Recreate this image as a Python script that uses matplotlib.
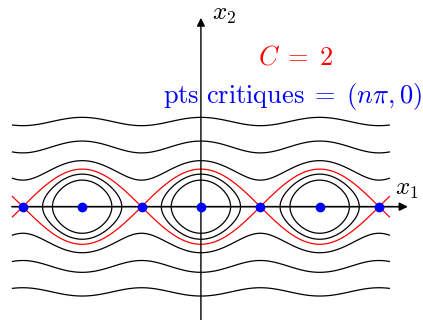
import numpy as np
import matplotlib.pyplot as plt

plt.rcParams['mathtext.fontset'] = 'cm'

# niveaux d'energie H = x2^2/2 + 1 - cos(x1)
niveaux_noirs = [1.0, 1.5, 3.0, 6.1, 11.3]
niveau_rouge = 2.0
# points critiques (n*pi, 0)
n_points = [-3, -2, -1, 0, 1, 2, 3]

fig = plt.figure(figsize=(4.23, 3.2), dpi=100)
ax = fig.add_axes([0, 0, 1, 1])
ax.set_xlim(-10.63, 11.75)
ax.set_ylim(-6.03, 11.0)
ax.axis('off')

x1 = np.linspace(-10, 10, 1200)
x2 = np.linspace(-6, 6, 800)
X1, X2 = np.meshgrid(x1, x2)
H = X2**2 / 2 + 1 - np.cos(X1)

ax.contour(X1, X2, H, levels=niveaux_noirs, colors='black', linewidths=0.9)
ax.contour(X1, X2, H, levels=[niveau_rouge], colors='red', linewidths=0.9)

# axes avec fleches
ax.annotate('', xy=(10.95, 0), xytext=(-10, 0),
            arrowprops=dict(arrowstyle='-|>', color='black', lw=1.2,
                            mutation_scale=12, shrinkA=0, shrinkB=0))
ax.annotate('', xy=(0, 10.05), xytext=(0, -6.03),
            arrowprops=dict(arrowstyle='-|>', color='black', lw=1.0,
                            mutation_scale=12, shrinkA=0, shrinkB=0))

xp = np.array(n_points) * np.pi
ax.plot(xp, np.zeros_like(xp), 'o', color='blue', markersize=6, zorder=5)

ax.text(10.9, 0.95, r'$x_1$', fontsize=18, ha='center', va='center')
ax.text(1.2, 10.25, r'$x_2$', fontsize=18, ha='center', va='center')
ax.text(5.0, 7.96, r'$C\;=\;2$', color='red', fontsize=19, ha='center', va='center')
ax.text(4.87, 5.89, r'$\mathrm{pts\ critiques}\;=\;(n\pi, 0)$', color='blue',
        fontsize=19, ha='center', va='center')

fig.savefig('out.png', dpi=100)
